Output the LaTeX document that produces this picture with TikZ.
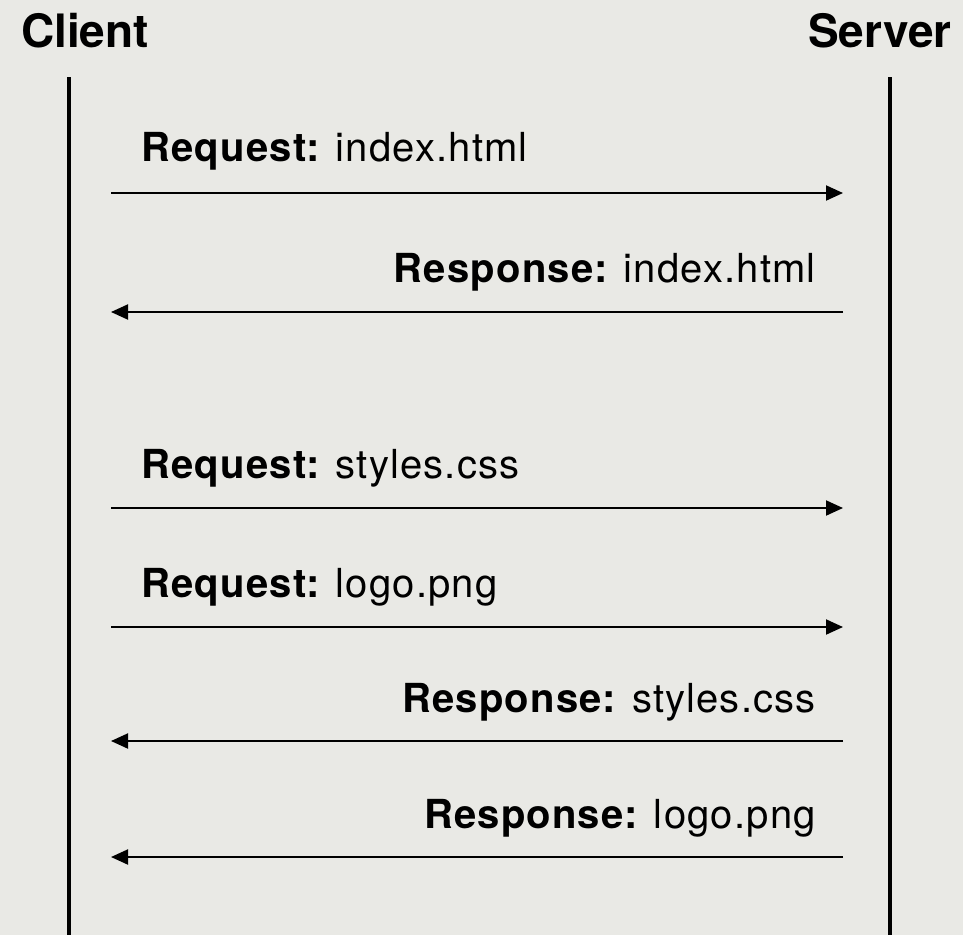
\documentclass[tikz,border=0pt]{standalone}
\usepackage{fontspec}
\setmainfont{TeX Gyre Heros}
\newfontfamily\lblfont[LetterSpace=3,WordSpace=0.85]{TeX Gyre Heros}
\usetikzlibrary{arrows.meta}
\definecolor{bg}{RGB}{233,233,229}
\begin{document}
\begin{tikzpicture}[x=1pt,y=-1pt,
  lifeline/.style={line width=4pt,black},
  msg/.style={line width=2pt,black,-{Triangle[length=17pt,width=15pt]}},
  head/.style={font=\fontsize{46}{46}\selectfont\bfseries,anchor=base,inner sep=0pt},
  lbl/.style={font=\lblfont\fontsize{40}{40}\selectfont,inner sep=0pt,anchor=base west},
  rlbl/.style={font=\lblfont\fontsize{40}{40}\selectfont,inner sep=0pt,anchor=base east}]
\fill[bg] (0,0) rectangle (963,935);
\useasboundingbox (0,0) rectangle (963,935);
\node[head] (client) at (85,47) {Client};
\node[head] (server) at (880,47) {Server};
\coordinate (ctop) at (69,77); \coordinate (cbot) at (69,935);
\coordinate (stop) at (890,77); \coordinate (sbot) at (890,935);
\draw[lifeline] (ctop) -- (cbot);
\draw[lifeline] (stop) -- (sbot);
% messages
\foreach \n/\y in {1/193,2/312,3/508,4/627,5/741,6/857}{
  \coordinate (L\n) at (111,\y);
  \coordinate (R\n) at (843,\y);
}
\node[lbl] (m1) at (141,161) {\textbf{Request:} index.html};
\node[rlbl] (m2) at (816,282) {\textbf{Response:} index.html};
\node[lbl] (m3) at (141,478) {\textbf{Request:} styles.css};
\node[lbl] (m4) at (141,597) {\textbf{Request:} logo.png};
\node[rlbl] (m5) at (816,712) {\textbf{Response:} styles.css};
\node[rlbl] (m6) at (816,828) {\textbf{Response:} logo.png};
\draw[msg] (L1) -- (R1);
\draw[msg] (R2) -- (L2);
\draw[msg] (L3) -- (R3);
\draw[msg] (L4) -- (R4);
\draw[msg] (R5) -- (L5);
\draw[msg] (R6) -- (L6);
\end{tikzpicture}
\end{document}
